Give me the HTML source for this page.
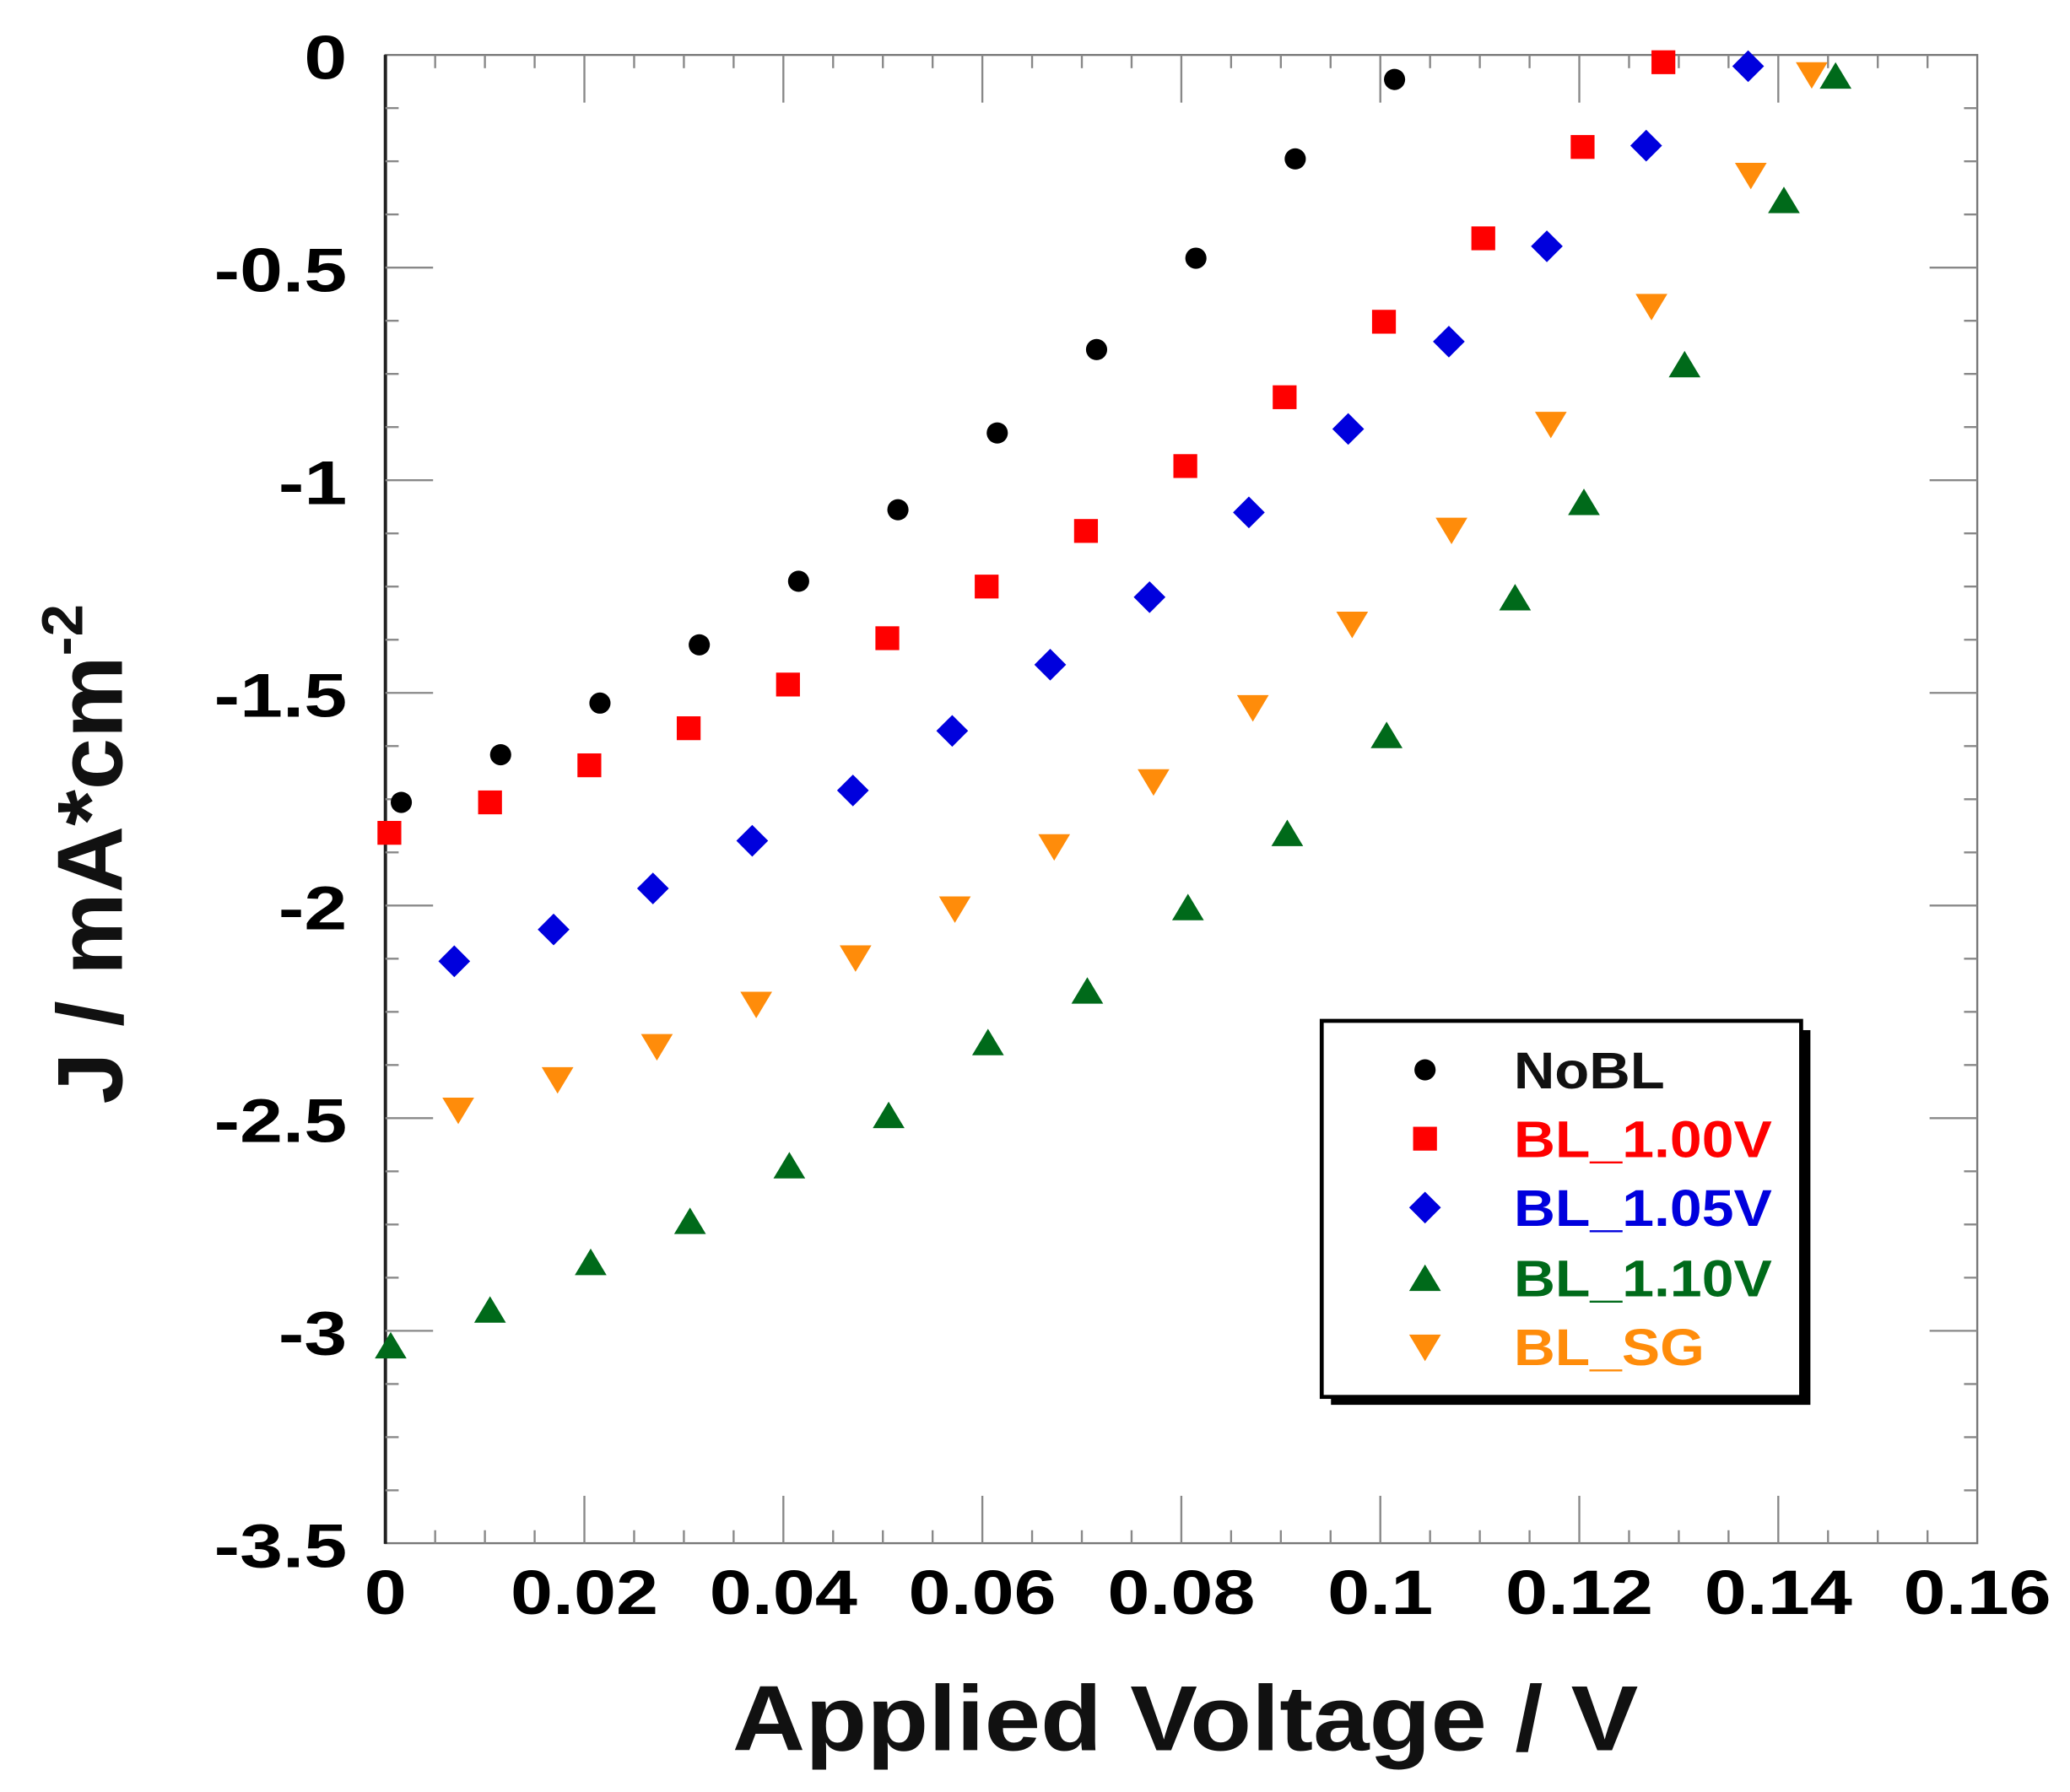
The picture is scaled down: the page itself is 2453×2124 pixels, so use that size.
<!DOCTYPE html>
<html><head><meta charset="utf-8"><style>html,body{margin:0;padding:0;background:#fff}svg{display:block}</style></head>
<body>
<svg xmlns="http://www.w3.org/2000/svg" width="2453" height="2124" viewBox="0 0 1563 1353.4">
<g font-family="Liberation Sans, Arial, sans-serif" font-weight="bold">
<rect x="291" y="41.5" width="1202" height="1124" fill="none" stroke="#777" stroke-width="1.5"/>
<line x1="291" y1="41.5" x2="291" y2="1166" stroke="#222" stroke-width="2.5"/>
<g id="ticks" stroke="#888" stroke-width="1.5"></g>
<g id="labels" font-size="47" fill="#000"></g>
<text x="553" y="1322" font-size="70" textLength="684" lengthAdjust="spacingAndGlyphs" fill="#111">Applied Voltage / V</text>
<text transform="translate(92,645) rotate(-90)" font-size="70" text-anchor="middle" fill="#111">J / mA*cm<tspan font-size="44" dy="-30">-2</tspan></text>
<g id="data"></g>
<rect x="1005" y="778" width="362" height="283" fill="#000"/>
<rect x="998" y="771" width="362" height="284" fill="#fff" stroke="#000" stroke-width="3"/>
<g font-size="39">
<text x="1143" y="822" textLength="114" lengthAdjust="spacingAndGlyphs" fill="#111">NoBL</text>
<text x="1143" y="874" textLength="195" lengthAdjust="spacingAndGlyphs" fill="#ff0000">BL_1.00V</text>
<text x="1143" y="926" textLength="195" lengthAdjust="spacingAndGlyphs" fill="#0000dd">BL_1.05V</text>
<text x="1143" y="979" textLength="195" lengthAdjust="spacingAndGlyphs" fill="#006a1a">BL_1.10V</text>
<text x="1143" y="1031" textLength="144" lengthAdjust="spacingAndGlyphs" fill="#ff8c0a">BL_SG</text>
</g>
<g id="leg"></g>
</g>
<script>
var NS="http://www.w3.org/2000/svg";
function el(p,t,a){var e=document.createElementNS(NS,t);for(var k in a)e.setAttribute(k,a[k]);p.appendChild(e);return e;}
var T=document.getElementById('ticks'),L=document.getElementById('labels');
var x0=291,x1=1493,y0=41.5,y1=1165.7;
for(var i=0;i<=32;i++){var x=x0+i*(x1-x0)/32,len=(i%4==0)?36:10;
 if(i>0&&i<32){el(T,'line',{x1:x,y1:y1,x2:x,y2:y1-len});el(T,'line',{x1:x,y1:y0,x2:x,y2:y0+len});}
 if(i%4==0){var t=el(L,'text',{transform:'translate('+x+',1219) scale(1.22,1)','text-anchor':'middle'});t.textContent=(i==0?'0':(i/200).toString());}}
for(var j=0;j<=28;j++){var y=y0+j*(y1-y0)/28,len=(j%4==0)?36:10;
 if(j>0&&j<28){el(T,'line',{x1:x0,y1:y,x2:x0+len,y2:y});el(T,'line',{x1:x1,y1:y,x2:x1-len,y2:y});}
 if(j%4==0){var t=el(L,'text',{transform:'translate(262,'+(y+18)+') scale(1.24,1)','text-anchor':'end'});var v=-j/8;t.textContent=(v==0?'0':v.toString());}}
var D=document.getElementById('data');
function mk(p,type,x,y){
 if(type=='c')el(p,'circle',{cx:x,cy:y,r:8,fill:'#000'});
 else if(type=='s')el(p,'rect',{x:x-9,y:y-9,width:18,height:18,fill:'#ff0000'});
 else if(type=='d')el(p,'polygon',{points:(x)+','+(y-12)+' '+(x+12)+','+y+' '+x+','+(y+12)+' '+(x-12)+','+y,fill:'#0000dd'});
 else if(type=='u')el(p,'polygon',{points:(x-12)+','+(y+9)+' '+(x+12)+','+(y+9)+' '+x+','+(y-11),fill:'#006a1a'});
 else el(p,'polygon',{points:(x-12)+','+(y-9)+' '+(x+12)+','+(y-9)+' '+x+','+(y+11),fill:'#ff8c0a'});}
var S={
c:[[303,606],[378,570],[453,531],[528,487],[603,439],[678,385],[753,327],[828,264],[903,195],[978,120],[1053,60]],
s:[[294,629],[370,606],[445,578],[520,550],[595,517],[670,482],[745,443],[820,401],[895,352],[970,300],[1045,243],[1120,180],[1195,111],[1256,47]],
d:[[343,726],[418,702],[493,671],[568,635],[644,597],[719,552],[793,502],[868,451],[943,387],[1018,324],[1094,258],[1168,186],[1243,110],[1320,50]],
o:[[346,838],[421,815],[496,790],[571,758],[646,723],[721,686],[796,639],[871,590],[946,534],[1021,471],[1096,400],[1171,320],[1247,231],[1322,132],[1368,56]],
u:[[295,1017],[370,990],[446,954],[521,923],[596,881],[671,843],[746,788],[821,749],[897,686],[972,630],[1047,556],[1144,452],[1196,380],[1272,276],[1347,152],[1386,58]]};
['c','s','d','o','u'].forEach(function(k){S[k].forEach(function(p){mk(D,k,p[0],p[1]);});});
var G=document.getElementById('leg');
mk(G,'c',1076,808);mk(G,'s',1076,860);mk(G,'d',1076,912);mk(G,'u',1076,966);mk(G,'o',1076,1017);
</script>
</svg>
</body></html>
